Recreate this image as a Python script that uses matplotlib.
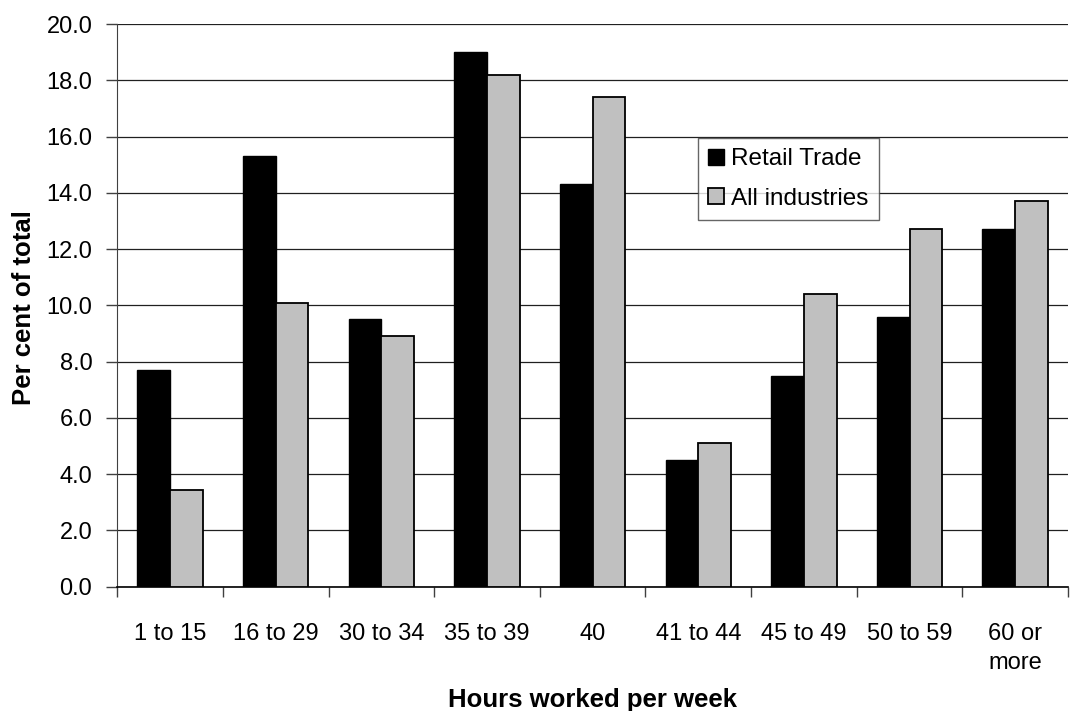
import matplotlib
matplotlib.use("Agg")
import matplotlib.pyplot as plt
import numpy as np

plt.rcParams['font.family'] = ['Liberation Sans', 'DejaVu Sans']

categories = ["1 to 15", "16 to 29", "30 to 34", "35 to 39", "40",
              "41 to 44", "45 to 49", "50 to 59", "60 or\nmore"]
retail_trade = [7.7, 15.3, 9.5, 19.0, 14.3, 4.5, 7.5, 9.6, 12.7]
all_industries = [3.45, 10.1, 8.9, 18.2, 17.4, 5.1, 10.4, 12.7, 13.7]
y_ticks = [0, 2, 4, 6, 8, 10, 12, 14, 16, 18, 20]

fig = plt.figure(figsize=(10.84, 7.11), dpi=100)
ax = fig.add_axes([0.1082, 0.1748, 0.8770, 0.7914])

x = np.arange(len(categories))
w = 0.31
ax.bar(x - w / 2, retail_trade, width=w, color="black", edgecolor="black",
       linewidth=1.0, label="Retail Trade", zorder=3)
ax.bar(x + w / 2, all_industries, width=w, color="#c0c0c0", edgecolor="black",
       linewidth=1.3, label="All industries", zorder=3)

ax.set_xlim(-0.5, len(categories) - 0.5)
ax.set_ylim(0, 20)
ax.set_yticks(y_ticks)
ax.set_yticklabels([f"{v:.1f}" for v in y_ticks])
ax.yaxis.grid(True, color="#202020", linewidth=0.9, zorder=0)
ax.set_axisbelow(True)

# category labels sit between boundary ticks
ax.set_xticks(x, minor=True)
ax.set_xticklabels(categories, minor=True)
ax.set_xticks(np.arange(len(categories) + 1) - 0.5)
ax.set_xticklabels([])
ax.tick_params(axis="x", which="major", length=7, width=1, color="#404040",
               direction="out")
ax.tick_params(axis="x", which="minor", length=0, pad=26, labelsize=17)
ax.tick_params(axis="y", length=8, width=1, color="#404040", pad=10,
               labelsize=17)
for lbl in ax.get_xticklabels(minor=True):
    lbl.set_linespacing(1.45)

for side in ("top", "right"):
    ax.spines[side].set_visible(False)
ax.spines["left"].set_color("#404040")
ax.spines["bottom"].set_color("black")
ax.spines["bottom"].set_linewidth(1.2)

ax.set_ylabel("Per cent of total", fontsize=18.5, fontweight="bold")
ax.yaxis.set_label_coords(-0.086, 0.497)
ax.set_xlabel("Hours worked per week", fontsize=18.5, fontweight="bold")
ax.xaxis.set_label_coords(0.5, -0.180)

leg = ax.legend(loc="upper left", bbox_to_anchor=(0.6436, 0.8055),
                bbox_transform=fig.transFigure, borderaxespad=0,
                fontsize=17.5, frameon=True, fancybox=False,
                handlelength=0.65, handleheight=0.65, handletextpad=0.3,
                labelspacing=0.7, borderpad=0.42)
leg.get_frame().set_edgecolor("#404040")
leg.get_frame().set_linewidth(1.0)

fig.savefig("out.png", dpi=100)
